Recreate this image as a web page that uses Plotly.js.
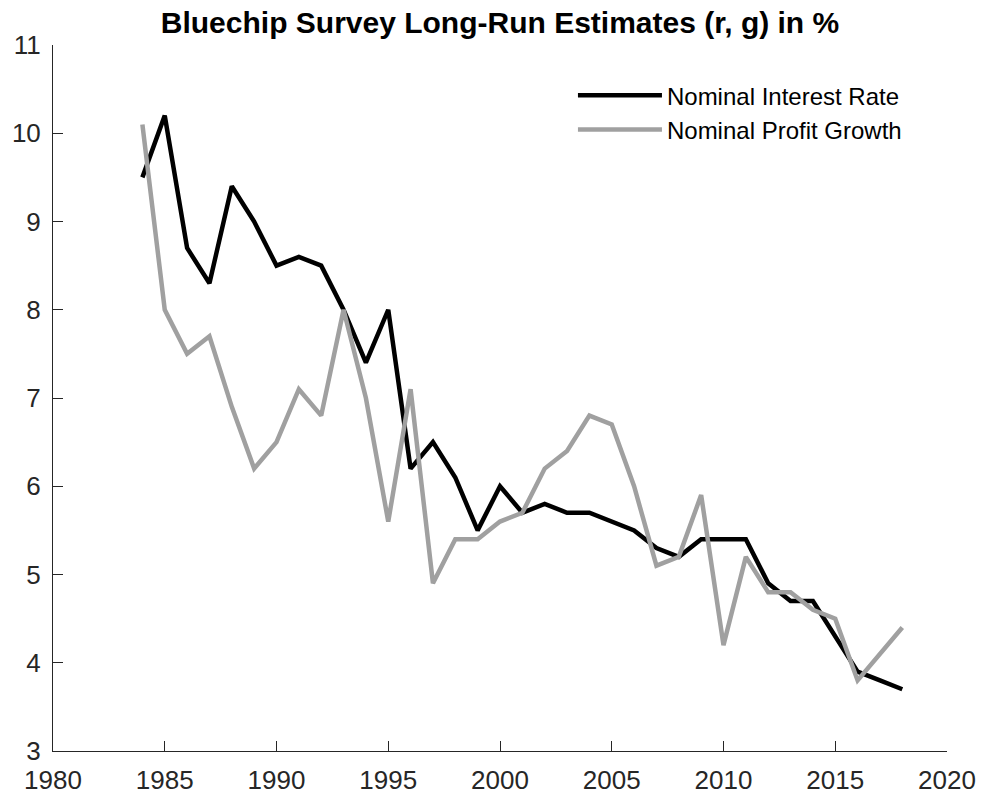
<!DOCTYPE html>
<html>
<head>
<meta charset="utf-8">
<script src="https://cdn.plot.ly/plotly-3.0.1.min.js"></script>
<style>html,body{margin:0;padding:0;background:#fff;} #chart{width:982px;height:803px;}</style>
</head>
<body>
<div id="chart"></div>
<script>
const years = [1984,1985,1986,1987,1988,1989,1990,1991,1992,1993,1994,1995,1996,1997,1998,1999,2000,2001,2002,2003,2004,2005,2006,2007,2008,2009,2010,2011,2012,2013,2014,2015,2016,2017,2018];
const interestRate = [9.5,10.2,8.7,8.3,9.4,9.0,8.5,8.6,8.5,8.0,7.4,8.0,6.2,6.5,6.1,5.5,6.0,5.7,5.8,5.7,5.7,5.6,5.5,5.3,5.2,5.4,5.4,5.4,4.9,4.7,4.7,4.3,3.9,3.8,3.7];
const profitGrowth = [10.1,8.0,7.5,7.7,6.9,6.2,6.5,7.1,6.8,8.0,7.0,5.6,7.1,4.9,5.4,5.4,5.6,5.7,6.2,6.4,6.8,6.7,6.0,5.1,5.2,5.9,4.2,5.2,4.8,4.8,4.6,4.5,3.8,4.1,4.4];
const seriesNames = ["Nominal Interest Rate", "Nominal Profit Growth"];
const xTicks = [1980,1985,1990,1995,2000,2005,2010,2015,2020];
const yTicks = [3,4,5,6,7,8,9,10,11];
const titleText = "Bluechip Survey Long-Run Estimates (r, g) in %";

const font = "Liberation Sans, Arial, Helvetica, sans-serif";
const traces = [
  {x: years, y: interestRate, name: seriesNames[0], type: "scatter", mode: "lines",
   line: {color: "#000000", width: 4.5}},
  {x: years, y: profitGrowth, name: seriesNames[1], type: "scatter", mode: "lines",
   line: {color: "#a0a0a0", width: 4.5}}
];
const axisCommon = {
  showgrid: false, zeroline: false, showline: true, linecolor: "#262626", linewidth: 1,
  ticks: "inside", ticklen: 10, tickcolor: "#262626", tickwidth: 1,
  tickfont: {family: font, size: 26, color: "#262626"}, mirror: false
};
const layout = {
  width: 982, height: 803,
  paper_bgcolor: "#ffffff", plot_bgcolor: "#ffffff",
  margin: {l: 53, r: 35, t: 45, b: 52},
  title: {text: "<b>" + titleText + "</b>", x: 0.5, xref: "paper", xanchor: "center",
          y: 1 - 22/803, yref: "container", yanchor: "middle",
          font: {family: font, size: 30, color: "#000000"}},
  xaxis: Object.assign({}, axisCommon, {range: [1980, 2020], tickvals: xTicks, ticktext: xTicks.map(String), ticklabelstandoff: 6}),
  yaxis: Object.assign({}, axisCommon, {range: [3, 11], tickvals: yTicks, ticktext: yTicks.map(String), ticklabelstandoff: 6}),
  showlegend: true,
  legend: {x: 0.5816, y: 0.96, xanchor: "left", yanchor: "top", bgcolor: "rgba(0,0,0,0)",
           borderwidth: 0, itemwidth: 84, tracegroupgap: 0,
           font: {family: font, size: 24, color: "#000000"}}
};
Plotly.newPlot("chart", traces, layout, {displayModeBar: false, staticPlot: true});
</script>
</body>
</html>
